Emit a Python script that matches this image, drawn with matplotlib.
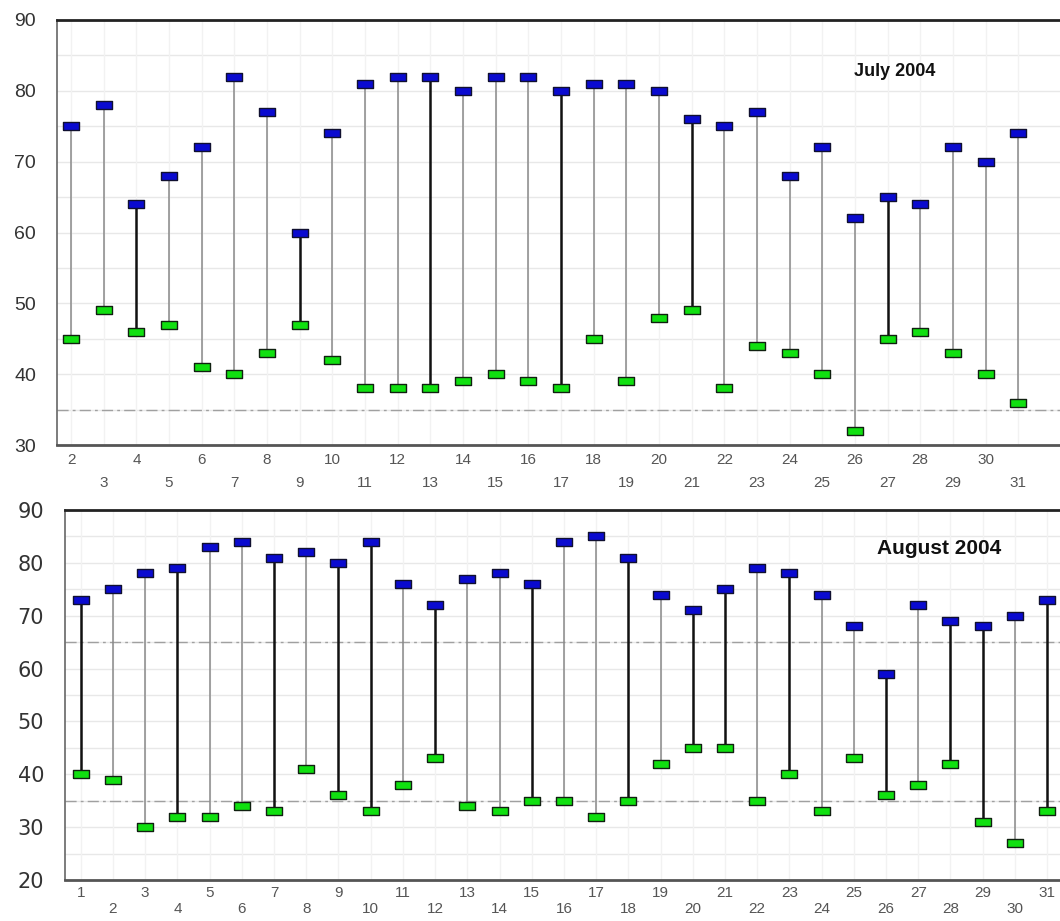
import matplotlib
matplotlib.use("Agg")
import matplotlib.pyplot as plt
import numpy as np

# July 2004 (days 2..31)
jul_days = list(range(2, 32))
jul_high = [75, 78, 64, 68, 72, 82, 77, 60, 74, 81, 82, 82, 80, 82, 82,
            80, 81, 81, 80, 76, 75, 77, 68, 72, 62, 65, 64, 72, 70, 74]
jul_low = [45, 49, 46, 47, 41, 40, 43, 47, 42, 38, 38, 38, 39, 40, 39,
           38, 45, 39, 48, 49, 38, 44, 43, 40, 32, 45, 46, 43, 40, 36]
jul_dark = [4, 9, 13, 17, 21, 27]

# August 2004 (days 1..31)
aug_days = list(range(1, 32))
aug_high = [73, 75, 78, 79, 83, 84, 81, 82, 80, 84, 76, 72, 77, 78, 76, 84,
            85, 81, 74, 71, 75, 79, 78, 74, 68, 59, 72, 69, 68, 70, 73]
aug_low = [40, 39, 30, 32, 32, 34, 33, 41, 36, 33, 38, 43, 34, 33, 35, 35,
           32, 35, 42, 45, 45, 35, 40, 33, 43, 36, 38, 42, 31, 27, 33]
aug_dark = [1, 4, 7, 9, 10, 12, 15, 18, 20, 21, 23, 26, 28, 29, 31]

rect = [(-1, -0.5), (1, -0.5), (1, 0.5), (-1, 0.5), (-1, -0.5)]


def draw(ax, days, high, low, dark, ylim, dashes, title, tpos, tsize, ysize, yfont,
         first_row_odd, pads):
    ax.set_ylim(*ylim)
    for y in np.arange(ylim[0] + 5, ylim[1], 5):
        ax.axhline(y, color="#e8e8e8", lw=1, zorder=0)
    for d in days:
        ax.axvline(d, color="#f2f2f2", lw=1, zorder=0)
    for y in dashes:
        ax.axhline(y, color="#a0a0a0", lw=1, ls=(0, (8, 3, 2, 3)), zorder=1)
    colors = ["#111111" if d in dark else "#888888" for d in days]
    widths = [1.8 if d in dark else 1.1 for d in days]
    ax.vlines(days, low, high, colors=colors, linewidths=widths, zorder=2)
    ax.plot(days, high, ls="none", marker=rect, ms=12, mfc="#0a0ad0", mec="#101030", mew=1, zorder=3)
    ax.plot(days, low, ls="none", marker=rect, ms=12, mfc="#10e010", mec="#102010", mew=1, zorder=3)

    ax.set_yticks(np.arange(ylim[0], ylim[1] + 1, 10))
    ax.tick_params(axis="y", length=0, pad=15, labelsize=ysize, labelcolor="#333333")
    for t in ax.get_yticklabels():
        t.set_fontfamily(yfont)
    if first_row_odd:
        row1 = [d for d in days if d % 2 == 1]
        row2 = [d for d in days if d % 2 == 0]
    else:
        row1 = [d for d in days if d % 2 == 0]
        row2 = [d for d in days if d % 2 == 1]
    ax.set_xticks(row1, [str(d) for d in row1])
    ax.set_xticks(row2, [str(d) for d in row2], minor=True)
    ax.tick_params(axis="x", which="major", length=0, pad=pads[0], labelsize=11, labelcolor="#555555")
    ax.tick_params(axis="x", which="minor", length=0, pad=pads[1], labelsize=11, labelcolor="#555555")
    for t in ax.get_xticklabels(which="both"):
        t.set_fontfamily("Liberation Sans")

    ax.spines["right"].set_visible(False)
    ax.spines["top"].set_color("#222222")
    ax.spines["top"].set_linewidth(2)
    ax.spines["bottom"].set_color("#555555")
    ax.spines["bottom"].set_linewidth(2)
    ax.spines["left"].set_color("#666666")
    ax.spines["left"].set_linewidth(1.2)

    ax.text(tpos[0], tpos[1], title, transform=ax.transAxes, ha="center", va="center",
            fontsize=tsize, fontweight="bold", color="#111111", family="Liberation Sans")


fig = plt.figure(figsize=(10.6, 9.21), dpi=100)

ax1 = fig.add_axes([0.0538, 0.5168, 0.9462, 0.4615])
ax1.set_xlim(1.57, 32.28)
draw(ax1, jul_days, jul_high, jul_low, jul_dark, (30, 90), [35], "July 2004",
     (0.835, 0.878), 13, 14, "Liberation Sans", False, (6, 22))

ax2 = fig.add_axes([0.0613, 0.0445, 0.9387, 0.4018])
ax2.set_xlim(0.51, 31.4)
draw(ax2, aug_days, aug_high, aug_low, aug_dark, (20, 90), [35, 65], "August 2004",
     (0.879, 0.897), 15, 15, "DejaVu Sans", True, (4, 16))

fig.savefig("out.png", dpi=100)
